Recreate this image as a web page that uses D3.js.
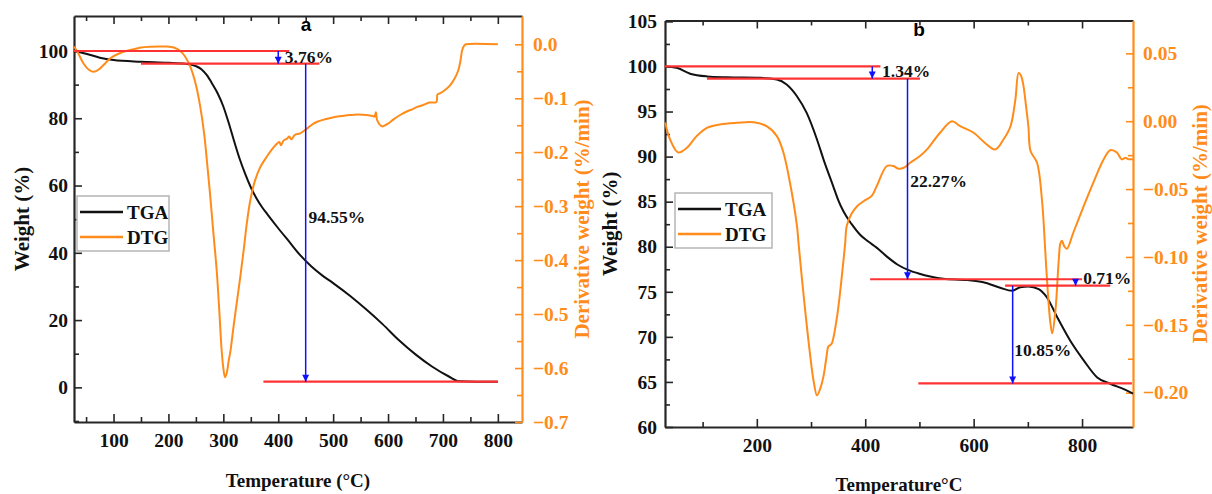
<!DOCTYPE html>
<html>
<head>
<meta charset="utf-8">
<script src="https://cdn.jsdelivr.net/npm/d3@7"></script>
<style>
  body { margin: 0; background: #fff; }
  svg text { font-family: "Liberation Serif", "Times New Roman", serif; font-weight: bold; }
</style>
</head>
<body>
<div class="vis-tga"></div>
<script>
// ---- panel a data ----
const tempA_tga = [28, 50, 75, 100, 150, 200, 230, 250, 260, 270, 280, 290, 300, 310, 320, 330, 340, 350, 360, 370, 380, 400, 420, 440, 460, 480, 500, 530, 560, 590, 620, 650, 680, 710, 730, 760, 800];
const wtA = [100, 99.2, 98.0, 97.3, 96.8, 96.5, 96.2, 95.5, 94.6, 92.8, 90.2, 87.3, 83.5, 78.5, 73.0, 67.8, 63.4, 59.5, 56.3, 53.7, 51.5, 47.3, 43.3, 39.3, 36.0, 33.3, 31.0, 27.3, 23.2, 18.8, 14.0, 9.8, 6.2, 3.3, 1.8, 1.7, 1.7];

const tempA_dtg = [28, 35, 45, 55, 64, 75, 85, 94, 110, 125, 137, 150, 167, 185, 197, 210, 221, 230, 240, 250, 258, 265, 270, 276, 282, 288, 293, 297, 300, 303, 306, 310, 313, 319, 325, 331, 337, 343, 349, 357, 367, 380, 390, 398, 402, 405, 410, 416, 420, 424, 430, 440, 450, 460, 470, 485, 501, 515, 531, 545, 561, 572, 575, 578, 580, 589, 600, 610, 622, 635, 645, 653, 665, 675, 688, 690, 694, 702, 713, 722, 728, 732, 735, 739, 742, 800];
const dtgA = [-0.004, -0.015, -0.035, -0.047, -0.051, -0.045, -0.035, -0.026, -0.017, -0.012, -0.009, -0.006, -0.0045, -0.004, -0.004, -0.006, -0.012, -0.022, -0.042, -0.075, -0.116, -0.165, -0.215, -0.28, -0.351, -0.42, -0.5, -0.568, -0.6, -0.617, -0.61, -0.585, -0.568, -0.52, -0.475, -0.43, -0.382, -0.33, -0.29, -0.255, -0.228, -0.207, -0.193, -0.184, -0.181, -0.187, -0.178, -0.175, -0.171, -0.176, -0.168, -0.165, -0.158, -0.15, -0.144, -0.139, -0.135, -0.133, -0.131, -0.13, -0.131, -0.133, -0.134, -0.126, -0.14, -0.152, -0.147, -0.139, -0.131, -0.124, -0.12, -0.116, -0.112, -0.108, -0.107, -0.093, -0.091, -0.086, -0.076, -0.062, -0.048, -0.03, -0.011, -0.002, 0.0, 0.0];

// ---- panel b data ----
const tempB_tga = [31, 52, 77, 108, 145, 206, 237, 255, 274, 292, 311, 323, 341, 350, 360, 375, 391, 405, 421, 440, 460, 480, 500, 520, 544, 588, 618, 649, 671, 686, 701, 720, 735, 754, 778, 803, 828, 852, 877, 894];
const wtB = [100, 99.85, 99.2, 98.9, 98.8, 98.74, 98.55, 98.0, 96.7, 94.85, 91.9, 89.7, 86.7, 85.2, 83.9, 82.5, 81.3, 80.6, 79.9, 78.9, 78.0, 77.4, 77.0, 76.7, 76.45, 76.3, 76.05, 75.45, 75.12, 75.5, 75.6, 75.3, 74.4, 72.2, 69.6, 67.4, 65.5, 64.8, 64.2, 63.7];

const tempB_dtg = [31, 40, 55, 71, 89, 108, 132, 163, 194, 218, 237, 249, 261, 274, 277, 286, 298, 305, 311, 317, 323, 328, 332, 335, 338, 348, 360, 363, 366, 375, 385, 397, 412, 421, 440, 452, 461, 471, 483, 500, 514, 538, 560, 575, 600, 621, 640, 655, 668, 677, 683, 688, 692, 697, 701, 705, 717, 726, 732, 735, 741, 745, 751, 757, 760, 763, 767, 772, 784, 803, 821, 840, 852, 864, 873, 880, 886, 894];
const dtgB = [-0.001, -0.0135, -0.023, -0.0196, -0.011, -0.0049, -0.0024, -0.0012, -0.0007, -0.0037, -0.011, -0.023, -0.045, -0.077, -0.09, -0.127, -0.171, -0.192, -0.202, -0.197, -0.188, -0.175, -0.166, -0.165, -0.164, -0.144, -0.102, -0.09, -0.077, -0.068, -0.0626, -0.059, -0.055, -0.048, -0.033, -0.033, -0.035, -0.0343, -0.0306, -0.026, -0.0208, -0.0085, 0.0, -0.0037, -0.0085, -0.016, -0.0208, -0.0135, -0.0037, 0.016, 0.0356, 0.033, 0.0258, 0.01, -0.0037, -0.022, -0.0306, -0.0577, -0.0945, -0.1146, -0.1465, -0.1563, -0.139, -0.1024, -0.09, -0.088, -0.092, -0.094, -0.082, -0.0626, -0.045, -0.028, -0.0214, -0.023, -0.028, -0.027, -0.028, -0.028];

// ---- axis ticks ----
const xMajorA = [100, 200, 300, 400, 500, 600, 700, 800];
const xMinorA = [50, 150, 250, 350, 450, 550, 650, 750];
const yLMajorA = [0, 20, 40, 60, 80, 100];
const yLMinorA = [-10, 10, 30, 50, 70, 90];
const yRMajorA = [-0.7, -0.6, -0.5, -0.4, -0.3, -0.2, -0.1, 0.0];
const yRMinorA = [-0.65, -0.55, -0.45, -0.35, -0.25, -0.15, -0.05];

const xMajorB = [200, 400, 600, 800];
const xMinorB = [100, 300, 500, 700];
const yLMajorB = [60, 65, 70, 75, 80, 85, 90, 95, 100, 105];
const yLMinorB = [62.5, 67.5, 72.5, 77.5, 82.5, 87.5, 92.5, 97.5, 102.5];
const yRMajorB = [-0.2, -0.15, -0.1, -0.05, 0.0, 0.05];
const yRMinorB = [-0.175, -0.125, -0.075, -0.025, 0.025];

// ---- mass-loss annotations (data units) ----
const stepsA = [[100, 28, 420], [96.24, 150, 475], [1.69, 373, 800]];        // [weight, from, to]
const arrowsA = [[400, 100, 96.24], [450, 96.24, 1.69]];                       // [temp, from, to]
const notesA = [["3.76%", 412, 98.2], ["94.55%", 455, 50.6]];

const stepsB = [[100, 30, 428], [98.66, 108, 501], [76.39, 409, 800], [75.68, 658, 852], [64.83, 498, 892]];
const arrowsB = [[413, 100, 98.66], [478, 98.66, 76.39], [788, 76.39, 75.68], [672, 75.68, 64.83]];
const notesB = [["1.34%", 431, 99.56], ["22.27%", 483, 87.26], ["0.71%", 802, 76.56], ["10.85%", 675, 68.56]];

const seriesNames = ["TGA", "DTG"];

const ORANGE = "#ff8c1a";
const RED = "#ff3333";
const BLUE = "#1010ff";
const FRAME = "#262626";
const SERIF = "'Liberation Serif', 'Times New Roman', serif";

const svg = d3.select(".vis-tga").append("svg")
  .attr("width", 1212)
  .attr("height", 494);

svg.append("defs").append("marker")
  .attr("id", "head")
  .attr("markerUnits", "userSpaceOnUse")
  .attr("viewBox", "0 0 10 10")
  .attr("refX", 10).attr("refY", 5)
  .attr("markerWidth", 11).attr("markerHeight", 7)
  .attr("orient", "auto")
  .append("path")
  .attr("d", "M0,0 L10,5 L0,10 z")
  .attr("fill", BLUE);

const drawPanel = p => {
  const x = d3.scaleLinear().domain(p.xDomain).range([p.left, p.right]);
  const yL = d3.scaleLinear().domain(p.yLDomain).range([p.bottom, p.top]);
  const yR = d3.scaleLinear().domain(p.yRDomain).range([p.bottom, p.top]);
  const g = svg.append("g");

  // bottom axis, major + minor, ticks pointing inward
  const bx = g.append("g").attr("transform", "translate(0," + p.bottom + ")");
  bx.call(d3.axisBottom(x).tickValues(p.xMajor).tickSize(-8).tickSizeOuter(0).tickPadding(11).tickFormat(d3.format("d")));
  bx.append("g").call(d3.axisBottom(x).tickValues(p.xMinor).tickSize(-5).tickFormat(""))
    .select(".domain").remove();

  const tx = g.append("g").attr("transform", "translate(0," + p.top + ")");
  tx.call(d3.axisTop(x).tickValues(p.xMajor).tickSize(-8).tickSizeOuter(0).tickFormat(""));
  tx.append("g").call(d3.axisTop(x).tickValues(p.xMinor).tickSize(-5).tickFormat(""))
    .select(".domain").remove();

  const ly = g.append("g").attr("transform", "translate(" + p.left + ",0)");
  ly.call(d3.axisLeft(yL).tickValues(p.yLMajor).tickSize(-8).tickSizeOuter(0).tickPadding(p.lPad).tickFormat(d3.format("d")));
  ly.append("g").call(d3.axisLeft(yL).tickValues(p.yLMinor).tickSize(-5).tickFormat(""))
    .select(".domain").remove();

  const ry = g.append("g").attr("transform", "translate(" + p.right + ",0)");
  ry.call(d3.axisRight(yR).tickValues(p.yRMajor).tickSize(-7).tickSizeOuter(0).tickPadding(p.rPad).tickFormat(d3.format(p.rFmt)));
  ry.append("g").call(d3.axisRight(yR).tickValues(p.yRMinor).tickSize(-5).tickFormat(""))
    .select(".domain").remove();

  [bx, tx, ly].forEach(a => {
    a.selectAll("path.domain").attr("stroke", FRAME).attr("stroke-width", 2.2);
    a.selectAll(".tick line").attr("stroke", FRAME).attr("stroke-width", 1.6);
  });
  ry.selectAll("path.domain").attr("stroke", ORANGE).attr("stroke-width", 2.2);
  ry.selectAll(".tick line").attr("stroke", ORANGE).attr("stroke-width", 1.6);
  g.selectAll(".tick text")
    .attr("font-size", null).attr("font-family", null)
    .style("font-family", SERIF).style("font-weight", "bold").style("font-size", "19.5px")
    .attr("fill", "#111");
  ry.selectAll(".tick text").attr("fill", ORANGE);

  // curves
  const tga = p.tgaT.map((t, i) => [t, p.tgaW[i]]);
  const dtg = p.dtgT.map((t, i) => [t, p.dtgV[i]]);
  g.append("path").datum(tga)
    .attr("fill", "none").attr("stroke", "#111").attr("stroke-width", 2)
    .attr("d", d3.line().curve(d3.curveMonotoneX).x(d => x(d[0])).y(d => yL(d[1])));
  g.append("path").datum(dtg)
    .attr("fill", "none").attr("stroke", ORANGE).attr("stroke-width", 2)
    .attr("d", d3.line().curve(d3.curveCatmullRom.alpha(0.5)).x(d => x(d[0])).y(d => yR(d[1])));

  // step lines, arrows, notes
  g.selectAll(".step").data(p.steps).enter().append("line")
    .attr("x1", d => x(d[1])).attr("x2", d => x(d[2]))
    .attr("y1", d => yL(d[0])).attr("y2", d => yL(d[0]))
    .attr("stroke", RED).attr("stroke-width", 2.2);
  g.selectAll(".arrow").data(p.arrows).enter().append("line")
    .attr("x1", d => x(d[0])).attr("x2", d => x(d[0]))
    .attr("y1", d => yL(d[1])).attr("y2", d => yL(d[2]))
    .attr("stroke", BLUE).attr("stroke-width", 1.5)
    .attr("marker-end", "url(#head)");
  g.selectAll(".note").data(p.notes).enter().append("text")
    .attr("x", d => x(d[1])).attr("y", d => yL(d[2]))
    .attr("dy", "0.35em")
    .attr("font-size", 17.5).attr("fill", "#111")
    .text(d => d[0]);

  // panel letter
  g.append("text")
    .attr("x", p.letterX).attr("y", p.top + 15)
    .attr("text-anchor", "middle")
    .attr("font-size", 19)
    .style("font-family", "'Liberation Sans', Arial, sans-serif")
    .text(p.letter);

  // axis titles
  g.append("text")
    .attr("transform", "translate(" + p.wTitleX + "," + (p.top + p.bottom) / 2 + ") rotate(-90)")
    .attr("text-anchor", "middle").attr("dy", "0.35em")
    .attr("font-size", 21).attr("fill", "#111")
    .text("Weight (%)");
  g.append("text")
    .attr("transform", "translate(" + p.dTitleX + "," + (p.top + p.bottom) / 2 + ") rotate(-90)")
    .attr("text-anchor", "middle").attr("dy", "0.35em")
    .attr("font-size", 21).attr("fill", ORANGE)
    .text("Derivative weight (%/min)");
  g.append("text")
    .attr("x", (p.left + p.right) / 2).attr("y", p.xTitleY)
    .attr("text-anchor", "middle").attr("dy", "0.35em")
    .attr("font-size", 19).attr("fill", "#111")
    .text(p.xTitle);

  // legend
  const lg = g.append("g").attr("transform", "translate(" + p.legX + "," + p.legY + ")");
  lg.append("rect").attr("width", p.legW).attr("height", 55)
    .attr("fill", "#fff").attr("stroke", "#b5b5b5").attr("stroke-width", 1.5);
  seriesNames.forEach((name, i) => {
    lg.append("line")
      .attr("x1", 3).attr("x2", 46).attr("y1", 16 + i * 25).attr("y2", 16 + i * 25)
      .attr("stroke", i === 0 ? "#111" : ORANGE).attr("stroke-width", 2.5);
    lg.append("text")
      .attr("x", 50).attr("y", 16 + i * 25).attr("dy", "0.35em")
      .attr("font-size", 19).attr("fill", "#111")
      .text(name);
  });
};

drawPanel({
  left: 74, right: 522, top: 16, bottom: 422,
  xDomain: [28, 844], yLDomain: [-10.3, 110.4], yRDomain: [-0.7, 0.0525],
  xMajor: xMajorA, xMinor: xMinorA, yLMajor: yLMajorA, yLMinor: yLMinorA,
  yRMajor: yRMajorA, yRMinor: yRMinorA, rFmt: ".1f", lPad: 6, rPad: 11,
  tgaT: tempA_tga, tgaW: wtA, dtgT: tempA_dtg, dtgV: dtgA,
  steps: stepsA, arrows: arrowsA, notes: notesA,
  letter: "a", letterX: 306, wTitleX: 22, dTitleX: 582,
  xTitle: "Temperature (°C)", xTitleY: 480,
  legX: 77, legY: 196, legW: 92
});

drawPanel({
  left: 665, right: 1133, top: 20.5, bottom: 427,
  xDomain: [30.6, 894], yLDomain: [60, 105.1], yRDomain: [-0.2253, 0.0742],
  xMajor: xMajorB, xMinor: xMinorB, yLMajor: yLMajorB, yLMinor: yLMinorB,
  yRMajor: yRMajorB, yRMinor: yRMinorB, rFmt: ".2f", lPad: 8, rPad: 10,
  tgaT: tempB_tga, tgaW: wtB, dtgT: tempB_dtg, dtgV: dtgB,
  steps: stepsB, arrows: arrowsB, notes: notesB,
  letter: "b", letterX: 919, wTitleX: 610, dTitleX: 1200,
  xTitle: "Temperature°C", xTitleY: 484,
  legX: 675, legY: 193, legW: 97
});
</script>
</body>
</html>
